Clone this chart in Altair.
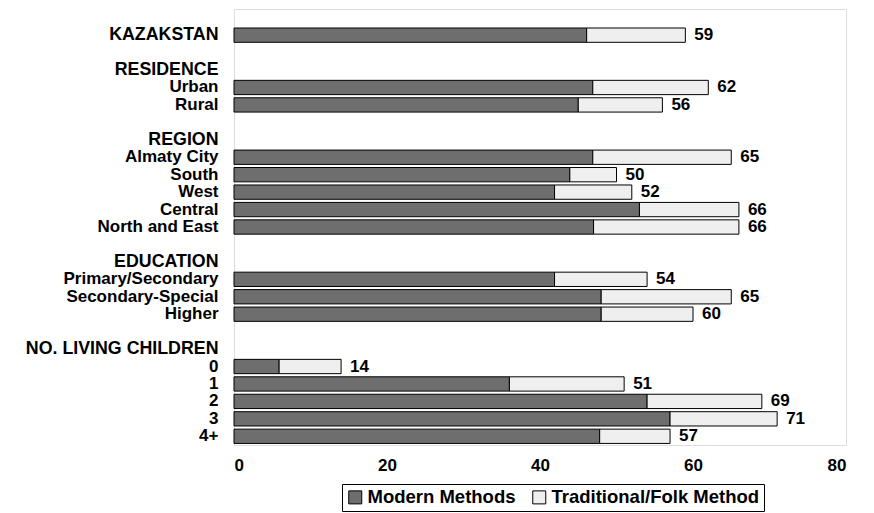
import altair as alt
import pandas as pd

rows = ["_0", "KAZAKSTAN", "_2", "RESIDENCE", "Urban", "Rural", "_6", "REGION",
        "Almaty City", "South", "West", "Central", "North and East", "_13",
        "EDUCATION", "Primary/Secondary", "Secondary-Special", "Higher", "_18",
        "NO. LIVING CHILDREN", "0", "1", "2", "3", "4+"]
headers = ["KAZAKSTAN", "RESIDENCE", "REGION", "EDUCATION", "NO. LIVING CHILDREN"]

bar_rows = ["KAZAKSTAN", "Urban", "Rural", "Almaty City", "South", "West", "Central",
            "North and East", "Primary/Secondary", "Secondary-Special", "Higher",
            "0", "1", "2", "3", "4+"]
modern = [46.1, 46.9, 45.0, 46.9, 43.9, 41.9, 53.0, 47.0, 41.9, 48.0, 48.0,
          5.9, 36.0, 54.0, 57.0, 47.8]
traditional = [12.9, 15.1, 11.0, 18.1, 6.1, 10.1, 13.0, 19.0, 12.1, 17.0, 12.0,
               8.1, 15.0, 15.0, 14.0, 9.2]
totals = [59, 62, 56, 65, 50, 52, 66, 66, 54, 65, 60, 14, 51, 69, 71, 57]

methods = ["Modern Methods", "Traditional/Folk Method"]

long_rows = []
for r, m, t in zip(bar_rows, modern, traditional):
    long_rows.append({"row": r, "method": methods[0], "value": m, "ord": 0})
    long_rows.append({"row": r, "method": methods[1], "value": t, "ord": 1})
df = pd.DataFrame(long_rows)
df_tot = pd.DataFrame({"row": bar_rows, "total": totals})

FONT = "Liberation Sans"

y_enc = alt.Y("row:N", scale=alt.Scale(domain=rows, paddingInner=0.18, paddingOuter=0.09),
              axis=alt.Axis(title=None, ticks=False, domain=False, labelPadding=16,
                            labelFont=FONT, labelFontWeight="bold", labelColor="black",
                            labelFontSize={"condition": {"test": "indexof(" + str(headers) + ", datum.value) >= 0", "value": 17.8}, "value": 17},
                            labelExpr="indexof(datum.value, '_') == 0 ? '' : datum.value",
                            labelLimit=400))

x_scale = alt.Scale(domain=[0, 80])

bars = alt.Chart(df).mark_bar(stroke="black", strokeWidth=1).encode(
    x=alt.X("value:Q", stack="zero", scale=x_scale,
            axis=alt.Axis(title=None, values=[0, 20, 40, 60, 80], ticks=False, grid=False,
                          domain=False, labelPadding=12, labelFont=FONT, labelFontSize=17,
                          labelColor="black", labelFontWeight="bold")),
    y=y_enc,
    fill=alt.Fill("method:N", scale=alt.Scale(domain=methods, range=["#6e6e6e", "#efefef"]),
                  legend=alt.Legend(title=None, orient="none", direction="horizontal",
                                    legendX=108, legendY=475, strokeColor="black",
                                    padding=4, labelFont=FONT, labelFontSize=18.5,
                                    labelFontWeight="bold",
                                    labelColor="black", symbolType="square", symbolSize=169,
                                    symbolStrokeColor="black", symbolStrokeWidth=1,
                                    columnPadding=14, labelOffset=3, labelLimit=400)),
    order=alt.Order("ord:Q"),
)

labels = alt.Chart(df_tot).mark_text(align="left", baseline="middle", dx=9, font=FONT,
                                     fontSize=17, fontWeight="bold", color="black").encode(
    x=alt.X("total:Q", scale=x_scale),
    y=alt.Y("row:N", scale=alt.Scale(domain=rows)),
    text=alt.Text("total:Q"),
)

chart = alt.layer(bars, labels).properties(
    width=612, height=436,
    padding={"left": 17, "top": 0, "right": 5, "bottom": 0},
).configure_view(stroke="black", strokeWidth=1).configure(background="white")

chart.save("out.html", embed_options={"renderer": "svg", "actions": False})
